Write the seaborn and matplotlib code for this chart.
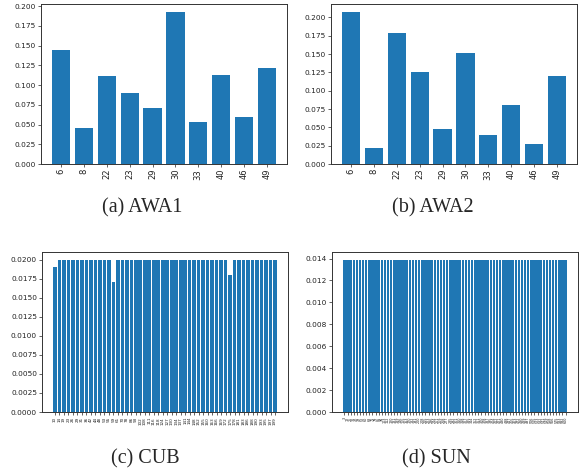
import pandas as pd
import matplotlib
matplotlib.use('Agg')
import matplotlib.pyplot as plt
import seaborn as sns

# 各数据集的类别编号与占比
awa_classes = ['6', '8', '22', '23', '29', '30', '33', '40', '46', '49']
awa1_values = [0.145, 0.046, 0.112, 0.090, 0.071, 0.193, 0.053, 0.113, 0.060, 0.121]
awa2_values = [0.208, 0.022, 0.179, 0.126, 0.048, 0.152, 0.040, 0.081, 0.027, 0.120]

cub_classes = [10, 14, 19, 23, 26, 29, 31, 36, 42, 44,
               48, 53, 55, 59, 61, 70, 78, 86, 93, 102,
               108, 111, 116, 118, 124, 127, 130, 134, 137, 141,
               144, 148, 152, 155, 160, 163, 166, 169, 172, 175,
               178, 181, 183, 186, 188, 190, 193, 195, 197, 199]
cub_values = [0.0190, 0.0200, 0.0200, 0.0200, 0.0200, 0.0200, 0.0200, 0.0200, 0.0200, 0.0200,
              0.0200, 0.0200, 0.0200, 0.0171, 0.0200, 0.0200, 0.0200, 0.0200, 0.0200, 0.0200,
              0.0200, 0.0200, 0.0200, 0.0200, 0.0200, 0.0200, 0.0200, 0.0200, 0.0200, 0.0200,
              0.0200, 0.0200, 0.0200, 0.0200, 0.0200, 0.0200, 0.0200, 0.0200, 0.0200, 0.0180,
              0.0200, 0.0200, 0.0200, 0.0200, 0.0200, 0.0200, 0.0200, 0.0200, 0.0200, 0.0200]

sun_classes = [3, 12, 25, 31, 40, 47, 52, 60, 68, 71, 79, 85, 94,
               103, 112, 120, 131, 139, 146, 155, 163, 170, 182,
               191, 200, 208, 215, 223, 236, 244, 251, 259, 268,
               277, 285, 292, 301, 310, 318, 327, 335, 344, 352,
               361, 370, 378, 387, 395, 404, 412, 421, 430, 438,
               447, 455, 463, 472, 480, 489, 497, 506, 515, 523,
               532, 541, 549, 558, 566, 575, 583, 592, 600]
sun_values = [0.0139, 0.0139, 0.0139, 0.0139, 0.0139, 0.0139, 0.0139, 0.0139, 0.0139, 0.0139, 0.0139, 0.0139,
              0.0139, 0.0139, 0.0139, 0.0139, 0.0139, 0.0139, 0.0139, 0.0139, 0.0139, 0.0139, 0.0139, 0.0139,
              0.0139, 0.0139, 0.0139, 0.0139, 0.0139, 0.0139, 0.0139, 0.0139, 0.0139, 0.0139, 0.0139, 0.0139,
              0.0139, 0.0139, 0.0139, 0.0139, 0.0139, 0.0139, 0.0139, 0.0139, 0.0139, 0.0139, 0.0139, 0.0139,
              0.0139, 0.0139, 0.0139, 0.0139, 0.0139, 0.0139, 0.0139, 0.0139, 0.0139, 0.0139, 0.0139, 0.0139,
              0.0139, 0.0139, 0.0139, 0.0139, 0.0139, 0.0139, 0.0139, 0.0139, 0.0139, 0.0139, 0.0139, 0.0139]

captions = ['(a) AWA1', '(b) AWA2', '(c) CUB', '(d) SUN']

sns.set_style('ticks')

fig = plt.figure(figsize=(5.79, 4.69), dpi=100)

panels = [
    (awa_classes, awa1_values, [0.0708, 0.6503, 0.4249, 0.3412], 5.3, 6.0),
    (awa_classes, awa2_values, [0.5717, 0.6503, 0.4249, 0.3412], 5.3, 6.0),
    ([str(c) for c in cub_classes], cub_values, [0.0725, 0.1215, 0.4249, 0.3412], 5.3, 3.0),
    ([str(c) for c in sun_classes], sun_values, [0.5734, 0.1215, 0.4249, 0.3412], 5.3, 2.4),
]

for labels, values, rect, yfs, xfs in panels:
    ax = fig.add_axes(rect)
    df = pd.DataFrame({'cls': labels, 'ratio': values})
    sns.barplot(data=df, x='cls', y='ratio', order=labels, color='#1f77b4',
                saturation=1, width=0.8, linewidth=0, edgecolor='none', ax=ax)
    n = len(labels)
    pad = 0.05 * (n - 0.2)
    ax.set_xlim(-0.4 - pad, n - 0.6 + pad)
    ax.set_ylim(0, max(values) * 1.05)
    ax.set_xlabel('')
    ax.set_ylabel('')
    ax.tick_params(axis='y', labelsize=yfs, length=2, width=0.5, pad=1.5, colors='#222222')
    ax.tick_params(axis='x', labelsize=xfs, length=2, width=0.5, pad=1.5, rotation=90, colors='#222222')
    for s in ax.spines.values():
        s.set_linewidth(0.7)
        s.set_color('#333333')

fig.text(0.2453, 0.556, captions[0], ha='center', va='center', family='Liberation Serif', fontsize=14.5)
fig.text(0.7478, 0.556, captions[1], ha='center', va='center', family='Liberation Serif', fontsize=14.5)
fig.text(0.2504, 0.021, captions[2], ha='center', va='center', family='Liberation Serif', fontsize=14.5)
fig.text(0.7530, 0.021, captions[3], ha='center', va='center', family='Liberation Serif', fontsize=14.5)

plt.savefig('out.png', dpi=100)
